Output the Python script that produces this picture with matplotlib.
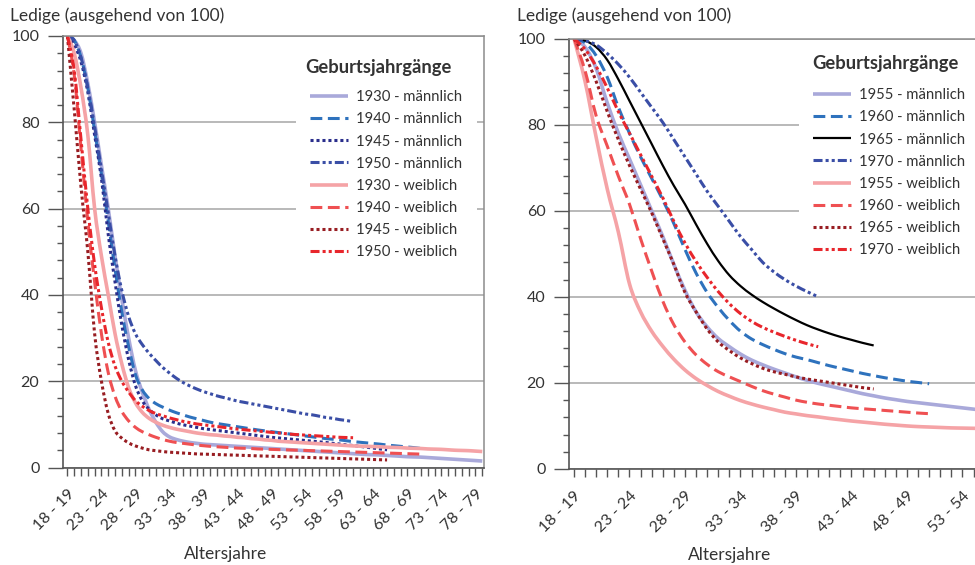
import numpy as np
import matplotlib
matplotlib.use('Agg')
import matplotlib.pyplot as plt
from matplotlib.ticker import MultipleLocator
from matplotlib.path import Path
from matplotlib.patches import PathPatch
from matplotlib.lines import Line2D

plt.rcParams['font.family'] = ['Lato', 'DejaVu Sans']
plt.rcParams['lines.scale_dashes'] = False

# --- Altersklassen (18 - 19 bis 79 - 80) ---
AGE_LABELS = [f"{a} - {a + 1}" for a in range(18, 80)]

# --- Ledige je 100, ältere Jahrgänge ---
M1930 = [100, 99, 96, 89, 80, 70, 60, 49, 39, 30, 22.5, 17.5, 13.5, 10.5,
         8.3, 7.1, 6.5, 6.1, 5.8, 5.6, 5.4, 5.3, 5.2, 5.1, 5.0, 4.9, 4.8, 4.7, 4.6, 4.5, 4.4,
         4.3, 4.2, 4.1, 4.0, 3.9, 3.8, 3.7, 3.6, 3.5, 3.4, 3.3, 3.2, 3.1, 3.0, 2.95, 2.9,
         2.8, 2.7, 2.6, 2.5, 2.45, 2.4, 2.3, 2.2, 2.1, 2.0, 1.9, 1.8, 1.7, 1.6, 1.5]
M1940 = [100, 99, 95, 88, 78, 68, 57, 46, 36, 28, 21.5, 18, 16, 14.8,
         14.0, 13.3, 12.7, 12.2, 11.7, 11.3, 10.9, 10.5, 10.2,
         9.95, 9.7, 9.45, 9.2, 8.95, 8.7, 8.5, 8.3, 8.1, 7.9,
         7.7, 7.5, 7.3, 7.1, 6.9, 6.7, 6.55, 6.4, 6.2, 6.0,
         5.85, 5.7, 5.55, 5.4, 5.2, 5.05, 4.9, 4.75, 4.6, 4.4]
M1945 = [100, 98, 94, 87, 77, 67, 54, 43, 33, 25, 19, 15.5, 13.5, 12.2,
         11.3, 10.8, 10.3, 9.9, 9.6, 9.3, 9.0, 8.8,
         8.6, 8.4, 8.2, 8.0, 7.8, 7.6, 7.4, 7.2, 7.0, 6.85,
         6.7, 6.55, 6.4, 6.25, 6.1, 5.95, 5.8, 5.6, 5.45, 5.25,
         5.1, 4.9, 4.7, 4.5, 4.3, 4.1]
M1950 = [100, 99, 95, 88, 79, 69, 59, 49, 41, 35, 31, 28.5, 26.5,
         24.8, 23.2, 21.9, 20.7, 19.7, 18.9, 18.2, 17.6, 17.1, 16.6,
         16.2, 15.8, 15.4, 15.1, 14.8, 14.5, 14.2, 13.9, 13.6, 13.3,
         13.0, 12.7, 12.4, 12.2, 11.9, 11.6, 11.4, 11.1, 10.9, 10.6]
W1930 = [100, 96, 88, 77, 60, 49, 40, 31, 24, 18.5, 15, 12.8, 11.4, 10.5,
         9.8, 9.3, 8.9, 8.6, 8.3, 8.0, 7.8, 7.6, 7.5, 7.3, 7.2, 7.0, 6.9, 6.7, 6.6, 6.4, 6.3,
         6.1, 6.0, 5.9, 5.8, 5.7, 5.6, 5.5, 5.4, 5.3, 5.2, 5.1, 5.0, 4.95, 4.9, 4.85, 4.8,
         4.7, 4.65, 4.6, 4.5, 4.45, 4.4, 4.3, 4.25, 4.2, 4.1, 4.0, 3.95, 3.9, 3.8, 3.7]
W1940 = [100, 91, 74, 57, 43, 31, 22, 16.5, 13, 10.8, 9.3, 8.3, 7.6,
         7.0, 6.5, 6.1, 5.8, 5.6, 5.4, 5.2, 5.05, 4.9, 4.8,
         4.7, 4.6, 4.5, 4.45, 4.4, 4.3, 4.25, 4.2, 4.15, 4.1,
         4.05, 4.0, 3.95, 3.9, 3.85, 3.8, 3.75, 3.7, 3.65, 3.6,
         3.55, 3.5, 3.45, 3.4, 3.35, 3.3, 3.25, 3.2, 3.15, 3.1]
W1945 = [100, 83, 65, 50, 31, 20, 12.5, 8.5, 6.8, 5.7, 5.0, 4.5, 4.1,
         3.9, 3.7, 3.55, 3.45, 3.35, 3.25, 3.15, 3.1, 3.05, 3.0,
         2.95, 2.9, 2.85, 2.8, 2.75, 2.7, 2.65, 2.6, 2.55, 2.5,
         2.45, 2.4, 2.35, 2.3, 2.25, 2.2, 2.15, 2.1, 2.05, 2.0,
         1.95, 1.9, 1.85, 1.8, 1.75]
W1950 = [100, 92, 76, 60, 47, 37, 29, 23.5, 20, 17.5, 15.5, 14.2, 13.2,
         12.5, 12.0, 11.5, 11.1, 10.7, 10.4, 10.1, 9.9, 9.7, 9.5,
         9.3, 9.1, 8.9, 8.75, 8.6, 8.45, 8.3, 8.15, 8.0, 7.85,
         7.7, 7.6, 7.5, 7.4, 7.3, 7.2, 7.1, 7.0, 6.95, 6.9]

# --- Ledige je 100, jüngere Jahrgänge ---
M1955 = [100, 98, 93, 85, 78, 72, 66, 60, 54, 47.5, 41.5, 36.5, 33, 30.3, 28.4, 26.7, 25.3, 24.2, 23.2, 22.3,
         21.4, 20.6, 19.9, 19.3, 18.7, 18.1, 17.5, 17.0, 16.5, 16.1,
         15.7, 15.4, 15.1, 14.8, 14.5, 14.2, 13.9, 13.6]
M1960 = [100, 99, 96, 91, 84, 78, 72.5, 67.5, 62.5, 57, 51, 45.5, 41, 37.5, 34.5, 32, 30.2, 28.9, 27.8, 26.8,
         26.0, 25.4, 24.7, 24.0, 23.4, 22.8, 22.2, 21.7, 21.2, 20.8,
         20.4, 20.1, 19.8]
M1965 = [100, 99.5, 98, 95, 90.5, 85.5, 80.5, 75.5, 70.5, 65.8, 61.5, 56.8, 52.3, 48.3, 45, 42.5, 40.5, 38.8, 37.3, 35.9,
         34.6, 33.4, 32.4, 31.5, 30.7, 30.0, 29.3, 28.7]
M1970 = [100, 99.5, 98.5, 96.5, 94, 91, 87.5, 84, 80.5, 76.5, 72.5, 68.5, 64.5, 61, 57.5, 54, 51, 48, 45.8, 44,
         42.5, 41.2, 40.0]
W1955 = [100, 90, 77, 65, 55, 43, 36.5, 32, 28.5, 25.5, 23, 21, 19.4, 18, 16.9, 15.9, 15.1, 14.4, 13.8, 13.2,
         12.8, 12.4, 12.1, 11.75, 11.45, 11.15, 10.9, 10.65, 10.4, 10.2,
         10.0, 9.85, 9.75, 9.65, 9.55, 9.5, 9.45, 9.4]
W1960 = [100, 92.5, 82, 75, 68, 61.5, 53.5, 46, 39, 33.5, 29.5, 26.5, 24.3, 22.6, 21.4, 20.3, 19.2, 18.2, 17.4, 16.7,
         16.0, 15.5, 15.1, 14.8, 14.5, 14.2, 14.0, 13.8, 13.6, 13.4,
         13.2, 13.0, 12.85]
W1965 = [100, 96, 90, 83, 76.5, 70.5, 65, 59.5, 53.5, 47.5, 41, 36.5, 32.5, 29.5, 27.5, 25.8, 24.5, 23.4, 22.6, 22.0,
         21.4, 20.9, 20.5, 20.1, 19.7, 19.3, 18.9, 18.6]
W1970 = [100, 97.5, 93.5, 88.5, 83, 78, 73, 68, 63, 57.5, 52.5, 48.2, 44.5, 41.2, 38.4, 36.1, 34.3, 32.9, 31.8, 30.8,
         29.9, 29.1, 28.4]

# --- Linienstile ---
SOLID = '-'
DASHED = (0, (8.5, 4))
DOTTED = (0, (2.2, 2.1))
DASHDOTDOT = (0, (6.5, 2.2, 2.2, 2.2, 2.2, 2.2))

LAVENDER = '#a9a9da'
BLUE = '#2e72bd'
NAVY = '#2a2e8c'
BLUE_DD = '#3a4ea6'
PINK = '#f5a3a6'
RED_DASH = '#ef5052'
DARKRED = '#981d22'
RED_DD = '#e8262c'

left_series = [
    ('1930 - männlich', M1930, LAVENDER, SOLID, 2.6),
    ('1940 - männlich', M1940, BLUE, DASHED, 2.2),
    ('1945 - männlich', M1945, NAVY, DOTTED, 2.2),
    ('1950 - männlich', M1950, BLUE_DD, DASHDOTDOT, 2.2),
    ('1930 - weiblich', W1930, PINK, SOLID, 2.6),
    ('1940 - weiblich', W1940, RED_DASH, DASHED, 2.2),
    ('1945 - weiblich', W1945, DARKRED, DOTTED, 2.2),
    ('1950 - weiblich', W1950, RED_DD, DASHDOTDOT, 2.2),
]
right_series = [
    ('1955 - männlich', M1955, LAVENDER, SOLID, 2.6),
    ('1960 - männlich', M1960, BLUE, DASHED, 2.2),
    ('1965 - männlich', M1965, 'black', SOLID, 1.6),
    ('1970 - männlich', M1970, BLUE_DD, DASHDOTDOT, 2.2),
    ('1955 - weiblich', W1955, PINK, SOLID, 2.6),
    ('1960 - weiblich', W1960, RED_DASH, DASHED, 2.2),
    ('1965 - weiblich', W1965, DARKRED, DOTTED, 2.2),
    ('1970 - weiblich', W1970, RED_DD, DASHDOTDOT, 2.2),
]

TEXT = '#333333'
W, H = 975, 565
fig = plt.figure(figsize=(W / 100, H / 100), dpi=100)


def px_axes(x0, top, x1, bottom):
    return fig.add_axes([x0 / W, 1 - bottom / H, (x1 - x0) / W, (bottom - top) / H])


def style_axes(ax, xlim, last_label):
    ax.set_xlim(*xlim)
    ax.set_ylim(0, 100)
    ax.yaxis.set_major_locator(MultipleLocator(20))
    ax.yaxis.set_minor_locator(MultipleLocator(4))
    ticks = list(range(len(AGE_LABELS)))
    ax.set_xticks(ticks)
    ax.set_xticklabels([lab if i % 5 == 0 and i <= last_label else ''
                        for i, lab in enumerate(AGE_LABELS)],
                       rotation=45, ha='right', rotation_mode='anchor')
    ax.tick_params(axis='x', length=6, width=1.0, color='#555555', pad=8,
                   labelsize=11.5, labelcolor=TEXT)
    ax.tick_params(axis='y', which='major', length=11, width=1.0, color='#555555',
                   pad=6, labelsize=11.5, labelcolor=TEXT)
    ax.tick_params(axis='y', which='minor', length=4.5, width=1.0, color='#555555')
    ax.grid(axis='y', which='major', color='#a6a6a6', linewidth=1.1)
    ax.set_axisbelow(True)
    for side in ('left', 'bottom'):
        ax.spines[side].set_color('#555555')
        ax.spines[side].set_linewidth(1.2)
    for side in ('top', 'right'):
        ax.spines[side].set_color('#8c8c8c')
        ax.spines[side].set_linewidth(1.1)


def smooth_path(vals):
    # geglättete Linie (Bezier-Segmente durch die Jahreswerte)
    pts = np.column_stack([np.arange(len(vals), dtype=float), np.asarray(vals, dtype=float)])
    verts = [pts[0]]
    codes = [Path.MOVETO]
    n = len(pts)
    for k in range(n - 1):
        p0 = pts[k - 1] if k > 0 else pts[k]
        p1, p2 = pts[k], pts[k + 1]
        p3 = pts[k + 2] if k + 2 < n else pts[k + 1]
        verts += [p1 + (p2 - p0) / 6, p2 - (p3 - p1) / 6, p2]
        codes += [Path.CURVE4] * 3
    return Path(verts, codes)


def draw(ax, series):
    handles = []
    for label, vals, color, ls, lw in series:
        ax.add_patch(PathPatch(smooth_path(vals), fill=False, edgecolor=color,
                               linestyle=ls, linewidth=lw, capstyle='butt',
                               joinstyle='round'))
        handles.append(Line2D([], [], color=color, linestyle=ls, linewidth=lw,
                              solid_capstyle='butt', label=label))
    return handles


def add_legend(ax, handles, x, y, title_x, title_y):
    leg = ax.legend(handles=handles, loc='upper left', bbox_to_anchor=(x / W, 1 - y / H),
                    bbox_transform=fig.transFigure, frameon=True, fancybox=False,
                    facecolor='white', edgecolor='none', framealpha=1.0,
                    fontsize=10.7, handlelength=2.5, handletextpad=0.55,
                    labelspacing=0.545, borderpad=1.0, borderaxespad=0)
    for t in leg.get_texts():
        t.set_color(TEXT)
    fig.text(title_x / W, 1 - title_y / H, 'Geburtsjahrgänge', fontsize=13.2,
             fontweight='bold', color=TEXT, ha='left', va='center')
    return leg


# linke Grafik
ax1 = px_axes(63, 36, 484, 467.5)
style_axes(ax1, (-0.65, 61.25), 61)
h1 = draw(ax1, left_series)
add_legend(ax1, h1, 295.5, 75.5, 305, 67)

# rechte Grafik (läuft über den Bildrand hinaus)
ax2 = px_axes(569, 38.5, 569 + 687.6, 469)
style_axes(ax2, (-0.45, 61.5), 35)
h2 = draw(ax2, right_series)
add_legend(ax2, h2, 798.5, 73.5, 812, 63)

fig.text(10 / W, 1 - 16 / H, 'Ledige (ausgehend von 100)', fontsize=12.5,
         color=TEXT, va='center', ha='left')
fig.text(517 / W, 1 - 16 / H, 'Ledige (ausgehend von 100)', fontsize=12.5,
         color=TEXT, va='center', ha='left')
fig.text(226 / W, 1 - 554 / H, 'Altersjahre', fontsize=12.5, color=TEXT,
         va='center', ha='center')
fig.text(730 / W, 1 - 555 / H, 'Altersjahre', fontsize=12.5, color=TEXT,
         va='center', ha='center')

fig.savefig('out.png', dpi=100)
